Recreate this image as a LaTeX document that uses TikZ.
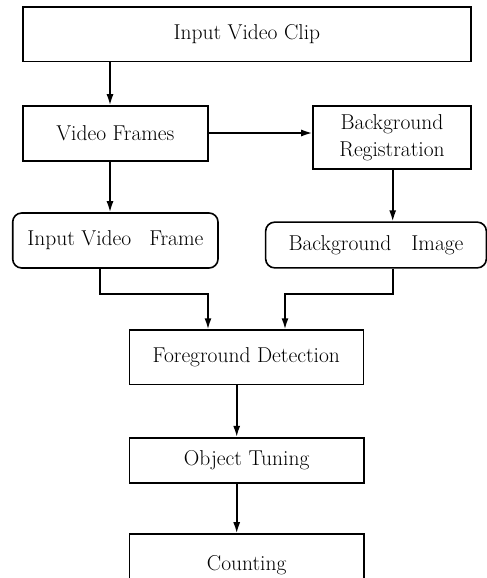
\documentclass[tikz,border=0pt]{standalone}
\usetikzlibrary{arrows.meta}
\begin{document}
\begin{tikzpicture}[x=1pt,y=-1pt,
  box/.style={draw,line width=1.6pt,inner sep=0pt,align=center,
    font=\fontsize{21.5}{26.6}\selectfont},
  rbox/.style={box,rounded corners=9pt},
  arr/.style={line width=1.6pt,-{Latex[length=11pt,width=7pt]}},
  ln/.style={line width=1.6pt}]
\useasboundingbox (0,0) rectangle (487,578);
\clip (0,0) rectangle (487,578);
\node[box,minimum width=448.3pt,minimum height=54.4pt] (clip) at (246.85,34.5) {Input Video Clip};
\node[box,minimum width=185.3pt,minimum height=54.7pt] (vf) at (115.35,133.35) {Video Frames};
\node[box,minimum width=158pt,minimum height=63pt] (br) at (392,137.5) {Background\\Registration};
\node[rbox,minimum width=205.3pt,minimum height=55pt] (ivf) at (115.35,240.5) {Input Video\hspace{18pt}Frame};
\node[rbox,minimum width=220.7pt,minimum height=45.7pt] (bi) at (376,245) {Background\hspace{20pt}Image};
\node[box,minimum width=234pt,minimum height=54.3pt] (fd) at (246.3,357.2) {Foreground Detection};
\node[box,minimum width=234.7pt,minimum height=45pt] (ot) at (246.7,460.2) {\raisebox{-2pt}{Object Tuning}};
\node[box,minimum width=234.7pt,minimum height=62pt] (cnt) at (246.7,565) {\raisebox{-2pt}{Counting}};
\draw[arr] (clip.south -| 110,0) -- (vf.north -| 110,0);
\draw[arr] (vf.east |- 0,133) -- (br.west |- 0,133);
\draw[arr] (vf.south -| 110,0) -- (ivf.north -| 110,0);
\draw[arr] (br.south -| 392.7,0) -- (bi.north -| 392.7,0);
\draw[arr] (ivf.south -| 100,0) -- (100,294) -- (208,294) -- (fd.north -| 208,0);
\draw[arr] (bi.south -| 392.7,0) -- (392.7,294) -- (285,294) -- (fd.north -| 285,0);
\draw[arr] (fd.south -| 236.7,0) -- (ot.north -| 236.7,0);
\draw[arr] (ot.south -| 236.7,0) -- (cnt.north -| 236.7,0);
\end{tikzpicture}
\end{document}
